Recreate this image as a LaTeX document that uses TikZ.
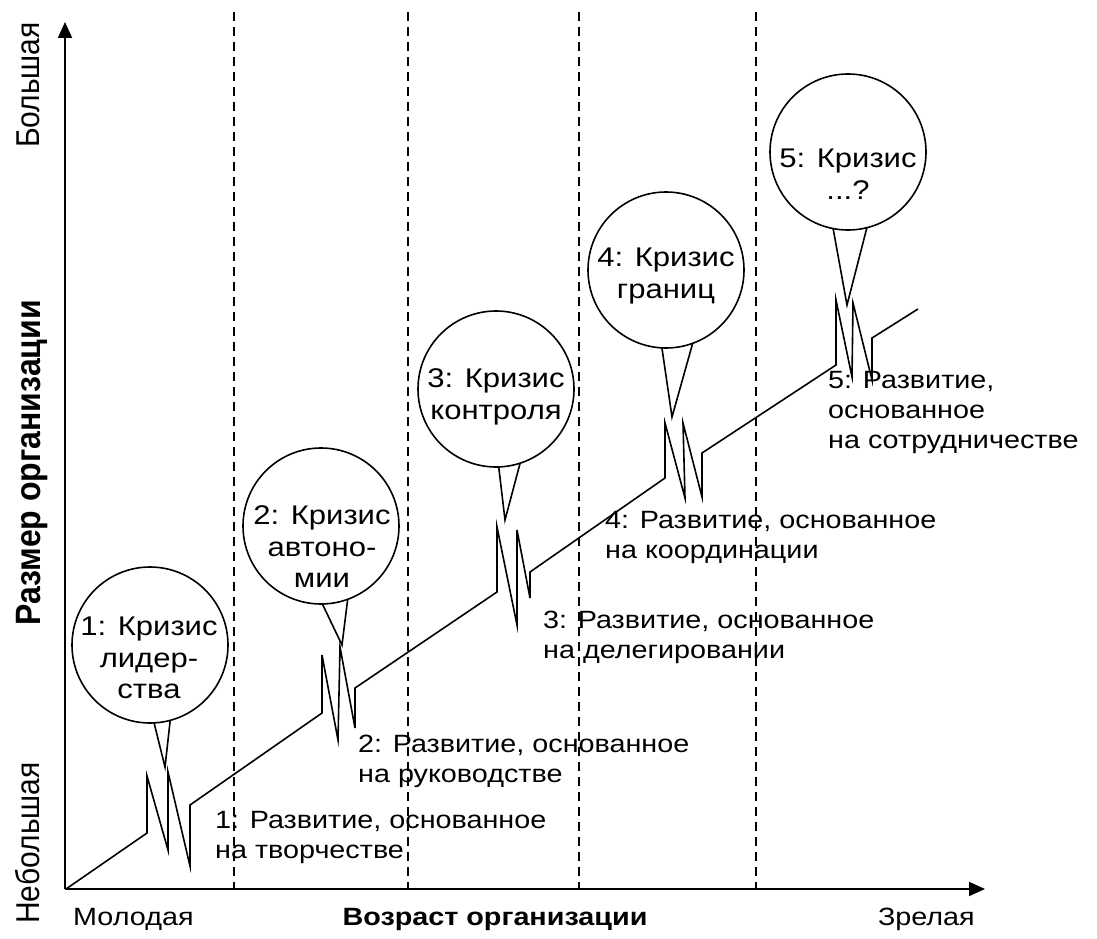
\documentclass[tikz,border=0pt]{standalone}
\usepackage{fontspec}
\setmainfont{Liberation Sans}[FakeStretch=1.15]
\newfontfamily\plainfont{Liberation Sans}
\usetikzlibrary{arrows.meta}
\begin{document}
\begin{tikzpicture}[x=1pt,y=-1pt,
  lab/.style={font=\fontsize{25}{30}\selectfont, inner sep=0, align=left, anchor=north west},
  ctext/.style={font=\fontsize{27}{31.5}\selectfont, inner sep=0, align=center},
  crisis/.style={draw, circle, line width=1.6pt, inner sep=0, outer sep=0, minimum size=156pt},
  zig/.style={line width=1.6pt, line join=miter},
  ptr/.style={line width=1.6pt},
  axis/.style={line width=2pt, -{Triangle[length=16pt,width=14pt]}},
  divider/.style={line width=1.6pt, dash pattern=on 9pt off 6pt},
  axlab/.style={font=\fontsize{25}{30}\selectfont, inner sep=0},
  vlab/.style={font=\plainfont\fontsize{30}{34}\selectfont, inner sep=0, anchor=base, rotate=90, yscale=1.1}
]
\useasboundingbox (0,0) rectangle (1097,939);

% dividers
\foreach \x/\n in {234/d1,408/d2,579/d3,756/d4}{
  \coordinate (\n top) at (\x,12);
  \coordinate (\n bot) at (\x,889);
  \draw[divider] (\n top) -- (\n bot);
}

% axes
\coordinate (O) at (65,889);
\coordinate (Xend) at (985,889);
\coordinate (Yend) at (65,22);
\draw[axis] (O) -- (Xend);
\draw[axis] (O) -- (Yend);

% growth curve with zigzags
\coordinate (s0) at (66,889);
\coordinate (a1) at (147,833); \coordinate (a2) at (147,776); \coordinate (a3) at (168,850);
\coordinate (a4) at (168,772); \coordinate (a5) at (190,866); \coordinate (a6) at (190,805);
\coordinate (b1) at (322,713); \coordinate (b2) at (322,655); \coordinate (b3) at (338,740);
\coordinate (b4) at (340,647); \coordinate (b5) at (355,728); \coordinate (b6) at (355,688);
\coordinate (c1p) at (497,592); \coordinate (c2p) at (497,527); \coordinate (c3p) at (517,625);
\coordinate (c4p) at (517,530); \coordinate (c5p) at (530,598); \coordinate (c6p) at (530,572);
\coordinate (e1) at (665,478); \coordinate (e2) at (665,423); \coordinate (e3) at (685,498);
\coordinate (e4) at (683,423); \coordinate (e5) at (702,497); \coordinate (e6) at (702,453);
\coordinate (f1) at (836,365); \coordinate (f2) at (836,300); \coordinate (f3) at (852,377);
\coordinate (f4) at (853,303); \coordinate (f5) at (872,380); \coordinate (f6) at (872,338);
\coordinate (fend) at (918,309);
\draw[zig] (s0) -- (a1) -- (a2) -- (a3) -- (a4) -- (a5) -- (a6)
  -- (b1) -- (b2) -- (b3) -- (b4) -- (b5) -- (b6)
  -- (c1p) -- (c2p) -- (c3p) -- (c4p) -- (c5p) -- (c6p)
  -- (e1) -- (e2) -- (e3) -- (e4) -- (e5) -- (e6)
  -- (f1) -- (f2) -- (f3) -- (f4) -- (f5) -- (f6) -- (fend);

% crisis circles
\node[crisis] (k1) at (150,645) {};
\node[crisis] (k2) at (321,526) {};
\node[crisis] (k3) at (496,389) {};
\node[crisis] (k4) at (666,270) {};
\node[crisis] (k5) at (848,152) {};

\node[ctext] (t1) at (149,658) {1: Кризис\\лидер-\\ства};
\node[ctext] (t2) at (322,547) {2: Кризис\\автоно-\\мии};
\node[ctext] (t3) at (496,397) {3: Кризис\\контроля};
\node[ctext] (t4) at (666,276) {4: Кризис\\границ};
\node[ctext] (t5) at (848,174) {5: Кризис\\...?};

% pointers
\coordinate (p1) at (165,767);
\coordinate (p2) at (342,645);
\coordinate (p3) at (505,520);
\coordinate (p4) at (672,417);
\coordinate (p5) at (847,305);
\draw[ptr] (k1.-87.8) -- (p1) -- (k1.-75);
\draw[ptr] (k2.-89.3) -- (p2) -- (k2.-70);
\draw[ptr] (k3.-88.5) -- (p3) -- (k3.-72.3);
\draw[ptr] (k4.-93) -- (p4) -- (k4.-70.5);
\draw[ptr] (k5.-101.8) -- (p5) -- (k5.-76.7);

% development labels
\node[lab] (g1) at (215,811) {1: Развитие, основанное\\на творчестве};
\node[lab] (g2) at (358,735) {2: Развитие, основанное\\на руководстве};
\node[lab] (g3) at (543,611) {3: Развитие, основанное\\на делегировании};
\node[lab] (g4) at (605,511) {4: Развитие, основанное\\на координации};
\node[lab] (g5) at (828,371) {5: Развитие,\\основанное\\на сотрудничестве};

% axis labels
\node[axlab, anchor=base west] (young) at (73,925) {Молодая};
\node[axlab, anchor=base, font=\fontsize{25}{30}\selectfont\bfseries] (age) at (495,925) {Возраст организации};
\node[axlab, anchor=base east] (mature) at (975,925) {Зрелая};
\node[vlab] (big) at (39,85) {Большая};
\node[vlab, font=\plainfont\fontsize{32}{36}\selectfont\bfseries] (size) at (40,463) {Размер организации};
\node[vlab] (small) at (39,843) {Небольшая};
\end{tikzpicture}
\end{document}
